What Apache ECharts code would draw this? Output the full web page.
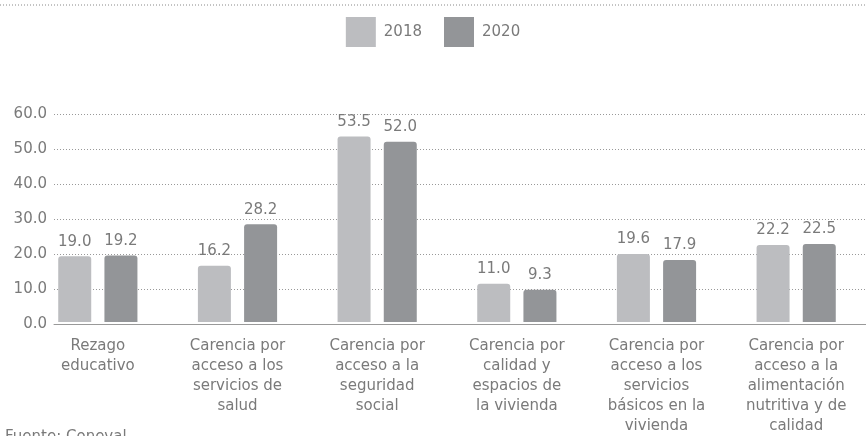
<!DOCTYPE html>
<html>
<head>
<meta charset="utf-8">
<title>Carencias sociales 2018-2020</title>
<script src="https://cdn.jsdelivr.net/npm/echarts@6/dist/echarts.min.js"></script>
<style>
    html, body { margin: 0; padding: 0; background: #fff; }
    #main { width: 866px; height: 436px; }
</style>
</head>
<body>
<div id="main"></div>
<script>
// datos
var categorias = [
    'Rezago\neducativo',
    'Carencia por\nacceso a los\nservicios de\nsalud',
    'Carencia por\nacceso a la\nseguridad\nsocial',
    'Carencia por\ncalidad y\nespacios de\nla vivienda',
    'Carencia por\nacceso a los\nservicios\nbásicos en la\nvivienda',
    'Carencia por\nacceso a la\nalimentación\nnutritiva y de\ncalidad'
];
var anios = ['2018', '2020'];
var valores2018 = [19.0, 16.2, 53.5, 11.0, 19.6, 22.2];
var valores2020 = [19.2, 28.2, 52.0, 9.3, 17.9, 22.5];

var fuente = "'DejaVu Sans ExtraLight', 'DejaVu Sans'";
var gris = '#7a7a7a';

var chart = echarts.init(document.getElementById('main'));

var etiqueta = {
    show: true,
    position: 'top',
    distance: 7,
    color: gris,
    fontFamily: fuente,
    fontSize: 15,
    formatter: function (p) { return p.value.toFixed(1); }
};

var option = {
    backgroundColor: '#fff',
    textStyle: { fontFamily: fuente },
    legend: {
        top: 12,
        left: 'center',
        itemWidth: 30,
        itemHeight: 30,
        itemGap: 22,
        icon: 'rect',
        textStyle: { color: gris, fontSize: 15, fontFamily: fuente, padding: [0, 0, 0, 3] },
        data: anios
    },
    graphic: [
        {
            type: 'line',
            shape: { x1: 0, y1: 5, x2: 866, y2: 5 },
            style: { stroke: '#888', lineWidth: 1, lineDash: [1, 2] }
        },
        {
            type: 'text',
            left: 5,
            top: 430,
            style: { text: 'Fuente: Coneval', fill: gris, fontSize: 15, fontFamily: fuente }
        }
    ],
    grid: [
        { left: 54, right: 0, top: 114, bottom: 112 },
        { left: 28, width: 852, top: 114, bottom: 112 }
    ],
    xAxis: [
        {
            gridIndex: 0,
            type: 'category',
            data: [''],
            axisLine: { lineStyle: { color: '#999' } },
            axisTick: { show: false },
            axisLabel: { show: false }
        },
        {
            gridIndex: 1,
            type: 'category',
            data: categorias,
            axisLine: { show: false },
            axisTick: { show: false },
            axisLabel: {
                interval: 0,
                margin: 14,
                color: gris,
                fontSize: 15,
                lineHeight: 20,
                fontFamily: fuente,
                align: 'center'
            }
        }
    ],
    yAxis: [
        {
            gridIndex: 0,
            type: 'value',
            min: 0,
            max: 60,
            interval: 10,
            axisLine: { show: false },
            axisTick: { show: false },
            axisLabel: {
                margin: 7,
                color: gris,
                fontSize: 15,
                fontFamily: fuente,
                formatter: function (v) { return v.toFixed(1); }
            },
            splitLine: { lineStyle: { color: '#999', type: [1, 2] } }
        },
        {
            gridIndex: 1,
            type: 'value',
            min: 0,
            max: 60,
            show: false
        }
    ],
    series: [
        {
            name: anios[0],
            type: 'bar',
            xAxisIndex: 1,
            yAxisIndex: 1,
            data: valores2018,
            barWidth: 33,
            barGap: '40%',
            itemStyle: { color: '#bcbdc0', borderRadius: [3, 3, 0, 0] },
            label: etiqueta
        },
        {
            name: anios[1],
            type: 'bar',
            xAxisIndex: 1,
            yAxisIndex: 1,
            data: valores2020,
            barWidth: 33,
            itemStyle: { color: '#939598', borderRadius: [3, 3, 0, 0] },
            label: etiqueta
        }
    ]
};

chart.setOption(option);
</script>
</body>
</html>
